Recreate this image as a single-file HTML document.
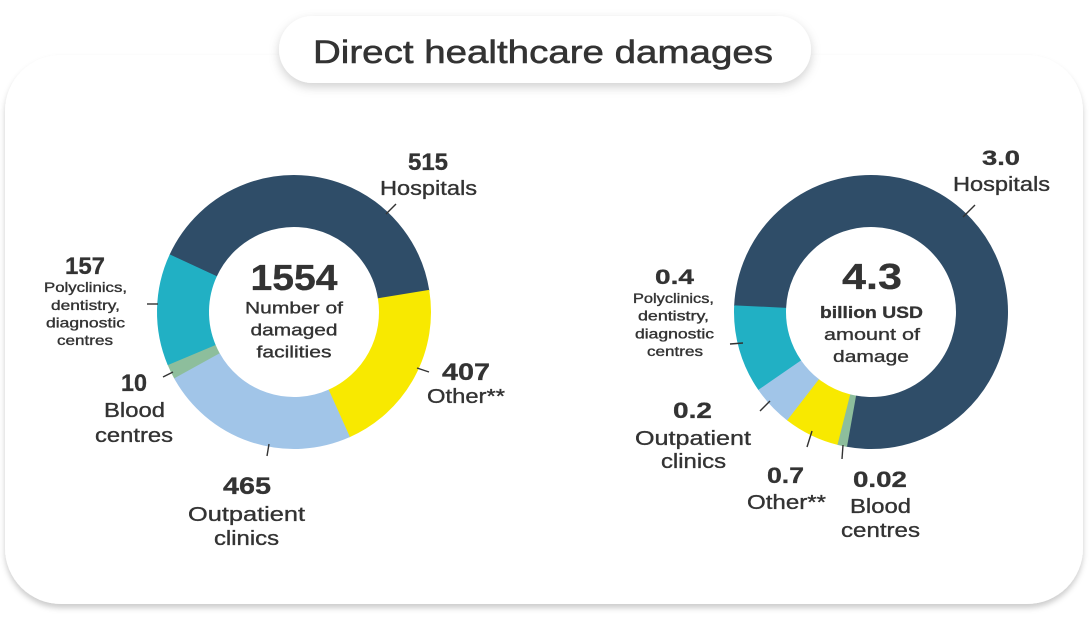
<!DOCTYPE html>
<html>
<head>
<meta charset="utf-8">
<style>
  html, body { margin:0; padding:0; background:#ffffff; }
  body { width:1089px; height:617px; overflow:hidden; }
  svg { display:block; }
  text { font-family: "Liberation Sans", "DejaVu Sans", sans-serif; fill:#333333; stroke:#333333; stroke-width:0.35px; }
  .b { font-weight:bold; stroke-width:0.3px; }
  .t { stroke-width:0.55px; }
</style>
</head>
<body>
<svg width="1089" height="617" viewBox="0 0 1089 617" xmlns="http://www.w3.org/2000/svg">
  <defs>
    <filter id="cardShadow" x="-5%" y="-5%" width="110%" height="115%">
      <feDropShadow dx="0" dy="4" stdDeviation="3" flood-color="#000000" flood-opacity="0.2"/>
    </filter>
    <filter id="pillShadow" x="-10%" y="-30%" width="120%" height="180%">
      <feDropShadow dx="0" dy="4" stdDeviation="5" flood-color="#000000" flood-opacity="0.18"/>
    </filter>
  </defs>

  <!-- card -->
  <rect x="5" y="55" width="1078" height="549" rx="56" ry="56" fill="#ffffff" filter="url(#cardShadow)"/>

  <!-- title pill -->
  <rect x="279" y="16" width="532" height="67" rx="33.5" ry="33.5" fill="#ffffff" filter="url(#pillShadow)"/>
  <text class="t" x="543" y="63" font-size="32" text-anchor="middle" textLength="460" lengthAdjust="spacingAndGlyphs">Direct healthcare damages</text>

  <!-- LEFT DONUT (center 294,312), r=111, width 52 -->
  <g fill="none" stroke-width="52">
    <circle cx="294" cy="312" r="111" stroke="#2F4D68" stroke-dasharray="283.5 1000" transform="rotate(204.7 294 312)"/>
    <circle cx="294" cy="312" r="111" stroke="#F8E900" stroke-dasharray="146.2 1000" transform="rotate(-9.3 294 312)"/>
    <circle cx="294" cy="312" r="111" stroke="#A1C5E8" stroke-dasharray="165.4 1000" transform="rotate(65.9 294 312)"/>
    <circle cx="294" cy="312" r="111" stroke="#8DBE9C" stroke-dasharray="12.5 1000" transform="rotate(151 294 312)"/>
    <circle cx="294" cy="312" r="111" stroke="#21B0C4" stroke-dasharray="92.3 1000" transform="rotate(157.2 294 312)"/>
  </g>

  <!-- left center text -->
  <text class="b" x="294" y="290" font-size="36" text-anchor="middle" textLength="87" lengthAdjust="spacingAndGlyphs">1554</text>
  <text x="294" y="313.5" font-size="17" text-anchor="middle" textLength="98" lengthAdjust="spacingAndGlyphs">Number of</text>
  <text x="294" y="335.5" font-size="17" text-anchor="middle" textLength="87" lengthAdjust="spacingAndGlyphs">damaged</text>
  <text x="294" y="357.5" font-size="17" text-anchor="middle" textLength="75" lengthAdjust="spacingAndGlyphs">facilities</text>

  <!-- left ticks -->
  <g stroke="#333333" stroke-width="1.4" fill="none">
    <line x1="386" y1="214" x2="396" y2="204"/>
    <line x1="417" y1="368" x2="429" y2="372"/>
    <line x1="269" y1="444" x2="267" y2="456"/>
    <line x1="147" y1="304" x2="158" y2="304"/>
    <line x1="163" y1="377" x2="173" y2="372"/>
  </g>

  <!-- left labels -->
  <text class="b" x="428" y="170" font-size="24" text-anchor="middle" textLength="40" lengthAdjust="spacingAndGlyphs">515</text>
  <text x="428.5" y="195" font-size="20" text-anchor="middle" textLength="97" lengthAdjust="spacingAndGlyphs">Hospitals</text>

  <text class="b" x="466" y="380" font-size="24" text-anchor="middle" textLength="48" lengthAdjust="spacingAndGlyphs">407</text>
  <text x="466" y="403" font-size="20" text-anchor="middle" textLength="78" lengthAdjust="spacingAndGlyphs">Other**</text>

  <text class="b" x="247" y="494" font-size="24" text-anchor="middle" textLength="48" lengthAdjust="spacingAndGlyphs">465</text>
  <text x="246.5" y="521" font-size="20" text-anchor="middle" textLength="117" lengthAdjust="spacingAndGlyphs">Outpatient</text>
  <text x="246.5" y="545" font-size="20" text-anchor="middle" textLength="65" lengthAdjust="spacingAndGlyphs">clinics</text>

  <text class="b" x="85" y="274" font-size="24" text-anchor="middle" textLength="40" lengthAdjust="spacingAndGlyphs">157</text>
  <text x="85.5" y="292" font-size="14" text-anchor="middle" textLength="83" lengthAdjust="spacingAndGlyphs">Polyclinics,</text>
  <text x="85.5" y="310" font-size="14" text-anchor="middle" textLength="69" lengthAdjust="spacingAndGlyphs">dentistry,</text>
  <text x="85.5" y="327.5" font-size="14" text-anchor="middle" textLength="79" lengthAdjust="spacingAndGlyphs">diagnostic</text>
  <text x="85" y="345" font-size="14" text-anchor="middle" textLength="56" lengthAdjust="spacingAndGlyphs">centres</text>

  <text class="b" x="134" y="391" font-size="24" text-anchor="middle" textLength="26" lengthAdjust="spacingAndGlyphs">10</text>
  <text x="134.5" y="417" font-size="20" text-anchor="middle" textLength="61" lengthAdjust="spacingAndGlyphs">Blood</text>
  <text x="134" y="442" font-size="20" text-anchor="middle" textLength="78" lengthAdjust="spacingAndGlyphs">centres</text>

  <!-- RIGHT DONUT (center 871,312) -->
  <g fill="none" stroke-width="52">
    <circle cx="871" cy="312" r="111" stroke="#2F4D68" stroke-dasharray="538.5 1000" transform="rotate(182.5 871 312)"/>
    <circle cx="871" cy="312" r="111" stroke="#21B0C4" stroke-dasharray="73 1000" transform="rotate(145.1 871 312)"/>
    <circle cx="871" cy="312" r="111" stroke="#A1C5E8" stroke-dasharray="34.6 1000" transform="rotate(127.5 871 312)"/>
    <circle cx="871" cy="312" r="111" stroke="#F8E900" stroke-dasharray="46.2 1000" transform="rotate(103.9 871 312)"/>
    <circle cx="871" cy="312" r="111" stroke="#8DBE9C" stroke-dasharray="7.9 1000" transform="rotate(100.1 871 312)"/>
  </g>

  <!-- right center text -->
  <text class="b" x="872" y="289" font-size="36" text-anchor="middle" textLength="60" lengthAdjust="spacingAndGlyphs">4.3</text>
  <text class="b" x="871.5" y="318" font-size="17" text-anchor="middle" textLength="103" lengthAdjust="spacingAndGlyphs">billion USD</text>
  <text x="872" y="340" font-size="17" text-anchor="middle" textLength="96" lengthAdjust="spacingAndGlyphs">amount of</text>
  <text x="871" y="362" font-size="17" text-anchor="middle" textLength="76" lengthAdjust="spacingAndGlyphs">damage</text>

  <!-- right ticks -->
  <g stroke="#333333" stroke-width="1.4" fill="none">
    <line x1="963" y1="217" x2="975" y2="205"/>
    <line x1="730" y1="344" x2="743" y2="343"/>
    <line x1="760" y1="411" x2="770" y2="401"/>
    <line x1="807" y1="447" x2="812" y2="431"/>
    <line x1="842" y1="459" x2="843" y2="445"/>
  </g>

  <!-- right labels -->
  <text class="b" x="1001" y="165" font-size="21" text-anchor="middle" textLength="38" lengthAdjust="spacingAndGlyphs">3.0</text>
  <text x="1001.5" y="191" font-size="20" text-anchor="middle" textLength="97" lengthAdjust="spacingAndGlyphs">Hospitals</text>

  <text class="b" x="674.5" y="284" font-size="21" text-anchor="middle" textLength="39" lengthAdjust="spacingAndGlyphs">0.4</text>
  <text x="673.5" y="303" font-size="13.5" text-anchor="middle" textLength="81" lengthAdjust="spacingAndGlyphs">Polyclinics,</text>
  <text x="673.5" y="320.7" font-size="13.5" text-anchor="middle" textLength="71" lengthAdjust="spacingAndGlyphs">dentistry,</text>
  <text x="674.5" y="338.4" font-size="13.5" text-anchor="middle" textLength="79" lengthAdjust="spacingAndGlyphs">diagnostic</text>
  <text x="675" y="356" font-size="13.5" text-anchor="middle" textLength="56" lengthAdjust="spacingAndGlyphs">centres</text>

  <text class="b" x="692.5" y="418" font-size="22" text-anchor="middle" textLength="39" lengthAdjust="spacingAndGlyphs">0.2</text>
  <text x="693" y="445" font-size="20" text-anchor="middle" textLength="116" lengthAdjust="spacingAndGlyphs">Outpatient</text>
  <text x="693.5" y="468" font-size="20" text-anchor="middle" textLength="65" lengthAdjust="spacingAndGlyphs">clinics</text>

  <text class="b" x="785.5" y="483" font-size="22" text-anchor="middle" textLength="37" lengthAdjust="spacingAndGlyphs">0.7</text>
  <text x="786.5" y="509" font-size="20" text-anchor="middle" textLength="79" lengthAdjust="spacingAndGlyphs">Other**</text>

  <text class="b" x="880" y="487" font-size="22" text-anchor="middle" textLength="54" lengthAdjust="spacingAndGlyphs">0.02</text>
  <text x="880.5" y="513" font-size="20" text-anchor="middle" textLength="61" lengthAdjust="spacingAndGlyphs">Blood</text>
  <text x="880.5" y="537" font-size="20" text-anchor="middle" textLength="79" lengthAdjust="spacingAndGlyphs">centres</text>
</svg>
</body>
</html>
